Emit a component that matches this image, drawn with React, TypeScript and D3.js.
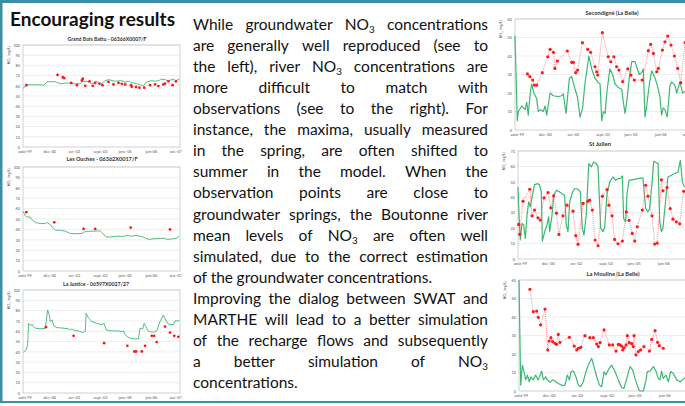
import React, { useEffect, useRef } from 'react';
import * as d3 from 'd3';

// x axis tick labels (decimal years of the label dates)
const monthLabels = ['août-99', 'déc.-00', 'avr.-02', 'sept.-03', 'janv.-05', 'juin-06', 'oct.-07'];
const monthTicks = [1999.58, 2000.92, 2002.25, 2003.67, 2005.0, 2006.42, 2007.75];

// Grand Bois Battu - 06366X0007/F
const gbbSimT = [1999.50, 1999.72, 2000.53, 2000.61, 2000.80, 2001.25, 2001.52, 2001.96, 2002.06, 2002.60, 2002.69, 2002.96, 2003.23, 2003.50, 2003.68, 2003.95, 2004.13, 2004.49, 2004.85, 2005.03, 2005.21, 2005.39, 2005.66, 2005.84, 2006.02, 2006.20, 2006.47, 2006.65, 2006.83, 2007.01, 2007.19, 2007.37, 2007.64, 2007.78, 2007.96];
const gbbSimV = [57.5, 61, 61, 60, 64, 64, 62, 63, 62, 62, 64, 64.5, 62, 64.5, 61, 65, 66, 64.5, 65, 63.5, 64.5, 63, 62, 61, 60, 64, 65, 64.5, 65, 66.5, 66, 65, 66.5, 65, 66.5];
const gbbObsT = [1999.68, 2001.37, 2001.66, 2001.73, 2002.11, 2002.42, 2002.69, 2002.74, 2002.87, 2003.10, 2003.28, 2003.41, 2003.64, 2003.80, 2004.13, 2004.40, 2004.67, 2004.85, 2005.03, 2005.35, 2005.39, 2005.62, 2005.80, 2006.06, 2006.38, 2006.65, 2006.83, 2007.10, 2007.19, 2007.37, 2007.60, 2007.78];
const gbbObsV = [60.6, 70.6, 68.4, 67.5, 62.8, 60.6, 65.3, 66.9, 60, 64.4, 60, 62.8, 62.2, 60.6, 63.8, 61.3, 62.8, 61.9, 61.3, 60.6, 59, 58.8, 58.1, 58.1, 60.6, 61.3, 59.7, 61.3, 62.2, 64.4, 60.6, 64.4];

// Les Ouches - 06362X0017/F
const louSimT = [1999.50, 1999.62, 1999.71, 1999.89, 1999.98, 2000.16, 2000.43, 2000.71, 2000.80, 2000.98, 2001.12, 2001.25, 2001.52, 2001.79, 2002.06, 2002.33, 2002.69, 2002.78, 2002.92, 2003.23, 2003.68, 2003.77, 2003.95, 2004.04, 2004.31, 2004.58, 2004.94, 2005.12, 2005.39, 2005.57, 2005.84, 2006.02, 2006.20, 2006.38, 2006.56, 2006.92, 2007.19, 2007.28, 2007.64, 2007.82, 2007.96];
const louSimV = [57.3, 53.2, 51.9, 51.9, 49.4, 46.8, 45.6, 45.6, 46.8, 44.6, 41.5, 39.2, 39.2, 38.3, 36.1, 35.8, 36.1, 37.3, 38, 38.3, 38.6, 37.3, 33.5, 32.6, 32.9, 33.5, 33.2, 34.2, 33.5, 34.2, 33.5, 32.6, 31, 30.4, 31, 31.3, 31.6, 30.4, 31, 31.6, 33.5];
const louObsT = [1999.68, 2001.19, 2002.78, 2003.41, 2005.33, 2007.46];
const louObsV = [56.6, 46.8, 40.5, 40.5, 41.8, 39.9];

// La Justice - 06597X0027/27
const ljuSimT = [1999.53, 1999.68, 1999.75, 1999.80, 1999.86, 1999.93, 1999.98, 2000.07, 2000.16, 2000.43, 2000.71, 2000.76, 2000.83, 2000.92, 2000.98, 2001.07, 2001.16, 2001.34, 2001.70, 2001.97, 2002.06, 2002.15, 2002.27, 2002.51, 2002.74, 2002.87, 2002.92, 2003.05, 2003.23, 2003.50, 2003.77, 2003.89, 2004.00, 2004.22, 2004.58, 2004.85, 2004.94, 2005.03, 2005.21, 2005.48, 2005.75, 2005.84, 2005.98, 2006.06, 2006.15, 2006.29, 2006.56, 2006.74, 2006.92, 2007.10, 2007.19, 2007.37, 2007.64, 2007.73, 2007.96];
const ljuSimV = [39.7, 41.9, 46.8, 67.7, 66.1, 65.5, 66.8, 64.5, 62.9, 62.3, 62.9, 69.4, 80.6, 75.8, 69.4, 71, 65.2, 63.5, 62.9, 62.3, 61.3, 62.3, 60.6, 60.3, 58.7, 59.7, 77.4, 72.6, 69.4, 67.7, 66.1, 67.7, 61.3, 60.3, 60.3, 59.7, 60.3, 56.5, 53.9, 52.6, 52.6, 62.9, 62.3, 67.7, 64.5, 59.7, 59, 60.3, 69.4, 75.8, 71.9, 66.8, 66.1, 70, 70];
const ljuObsT = [2000.74, 2002.24, 2003.89, 2005.15, 2005.53, 2005.62, 2005.93, 2006.11, 2006.47, 2006.60, 2006.74, 2007.19, 2007.46, 2007.69, 2007.91];
const ljuObsV = [63.9, 55.5, 48.4, 45.8, 40.3, 40.3, 40.3, 45.8, 55.5, 55.5, 49.4, 64.5, 58.7, 55.5, 54.5];

// Secondigné (La Belle)
const secSimT = [1999.50, 1999.61, 1999.66, 1999.82, 1999.98, 2000.06, 2000.13, 2000.21, 2000.29, 2000.40, 2000.53, 2000.61, 2000.72, 2000.85, 2000.93, 2001.01, 2001.17, 2001.33, 2001.56, 2001.72, 2001.80, 2001.93, 2002.09, 2002.20, 2002.36, 2002.47, 2002.60, 2002.72, 2002.83, 2003.02, 2003.15, 2003.31, 2003.47, 2003.55, 2003.63, 2003.71, 2003.79, 2003.87, 2004.02, 2004.15, 2004.26, 2004.42, 2004.58, 2004.66, 2004.74, 2004.82, 2004.94, 2005.06, 2005.21, 2005.33, 2005.42, 2005.53, 2005.61, 2005.69, 2005.77, 2005.90, 2006.01, 2006.17, 2006.28, 2006.40, 2006.48, 2006.56, 2006.64, 2006.75, 2006.88, 2006.96, 2007.12, 2007.20, 2007.28, 2007.36, 2007.48, 2007.60];
const secSimV = [51, 5, 10, 13, 11, 15, 8, 18, 25, 20, 17, 10, 11, 10, 13, 8, 20, 18.5, 18, 18.5, 19.5, 9, 28, 29, 22, 18, 7, 12, 25, 40, 33, 28, 25.5, 25, 5, 10, 9, 20, 33, 30, 25, 23, 22, 15, 9, 15, 28, 37, 37, 33, 30, 31, 33, 7, 13, 25, 32, 28, 24, 18, 8, 12, 11, 7, 24, 26, 24, 20, 23, 26, 20, 21];
const secObsT = [2000.09, 2000.21, 2000.34, 2000.42, 2000.53, 2000.80, 2001.06, 2001.17, 2001.33, 2001.40, 2001.52, 2001.99, 2002.20, 2002.28, 2002.39, 2002.48, 2002.71, 2002.96, 2003.10, 2003.31, 2003.39, 2003.44, 2003.66, 2003.94, 2004.06, 2004.21, 2004.34, 2004.45, 2004.63, 2004.87, 2005.02, 2005.18, 2005.56, 2005.85, 2005.96, 2006.09, 2006.25, 2006.33, 2006.52, 2006.64, 2006.77, 2006.93, 2007.09, 2007.25, 2007.39, 2007.60];
const secObsV = [30.3, 28.8, 27, 24.3, 24.3, 31, 39.6, 43.6, 42, 33.3, 37.3, 42.7, 36.6, 36.6, 31, 32.4, 47.2, 43.6, 42, 34.2, 31.5, 29.7, 52.6, 39.6, 36.9, 39.6, 34.2, 32.4, 26.1, 33, 29.7, 27, 27, 42.9, 46.3, 41.4, 31.5, 33.3, 43.2, 47.7, 50.8, 45.9, 40, 33.3, 25.6, 47.2];

// St Julien
const sjuSimT = [1999.50, 1999.55, 1999.61, 1999.69, 1999.77, 1999.85, 1999.93, 2000.01, 2000.09, 2000.17, 2000.29, 2000.45, 2000.53, 2000.61, 2000.66, 2000.77, 2000.88, 2000.96, 2001.01, 2001.12, 2001.20, 2001.33, 2001.48, 2001.64, 2001.72, 2001.80, 2001.88, 2001.96, 2002.09, 2002.20, 2002.36, 2002.47, 2002.56, 2002.64, 2002.75, 2002.87, 2002.99, 2003.10, 2003.23, 2003.31, 2003.44, 2003.55, 2003.63, 2003.74, 2003.87, 2004.02, 2004.15, 2004.26, 2004.37, 2004.47, 2004.53, 2004.63, 2004.69, 2004.79, 2004.98, 2005.21, 2005.45, 2005.58, 2005.69, 2005.77, 2005.90, 2005.96, 2006.17, 2006.25, 2006.33, 2006.40, 2006.53, 2006.64, 2006.80, 2006.96, 2007.12, 2007.23, 2007.33, 2007.39, 2007.44];
const sjuSimV = [46.7, 28.4, 12.3, 23, 22, 13.4, 28.4, 37, 33.8, 40.3, 48.2, 48.9, 47.8, 43.5, 11.6, 17.7, 22, 27.4, 17.7, 28.4, 41.4, 44.6, 43.5, 41.8, 41.4, 22, 17.7, 37, 43.1, 45.7, 45.2, 43.5, 19.8, 15.5, 28.4, 61.8, 59.7, 62.9, 61.8, 59.7, 19.8, 17.7, 20.9, 42.4, 50, 53.2, 51, 52.1, 52.1, 53.8, 26.3, 24.1, 42.4, 51, 51.5, 52.1, 52.6, 32.7, 30.6, 32.7, 52.1, 63.3, 61.8, 24.1, 17.7, 19.8, 38.1, 53.2, 54.3, 55.4, 56.4, 64, 50, 47.8, 46.7];
const sjuObsT = [1999.53, 1999.58, 1999.74, 2000.06, 2000.17, 2000.29, 2000.45, 2000.56, 2000.74, 2000.93, 2001.06, 2001.20, 2001.33, 2001.45, 2001.64, 2001.83, 2002.12, 2002.25, 2002.36, 2002.60, 2002.83, 2002.91, 2003.04, 2003.17, 2003.31, 2003.52, 2003.74, 2003.83, 2003.98, 2004.10, 2004.26, 2004.47, 2004.66, 2004.79, 2004.94, 2005.06, 2005.18, 2005.42, 2005.58, 2005.69, 2005.88, 2006.01, 2006.13, 2006.33, 2006.40, 2006.60, 2006.75, 2006.88, 2007.04, 2007.20, 2007.39];
const sjuObsV = [22.4, 15.9, 37.5, 45.2, 28, 31.7, 26.7, 25.2, 39.6, 43.1, 33.2, 40.9, 29.7, 15.9, 28, 34.9, 31, 15.1, 9.5, 36, 37.5, 38.1, 31.7, 12.3, 8.6, 40.7, 45, 34.9, 28, 12.7, 9.9, 11.6, 30.6, 25, 16.6, 11.6, 20.9, 31.7, 47.8, 40.7, 28, 9.7, 10.3, 51.3, 44.2, 46.3, 32.7, 25.8, 24.1, 22.8, 43.9];

// La Mouline (La Belle)
const mouSimT = [1999.50, 1999.58, 1999.66, 1999.74, 1999.82, 1999.90, 1999.99, 2000.07, 2000.18, 2000.29, 2000.42, 2000.58, 2000.66, 2000.77, 2000.85, 2000.98, 2001.09, 2001.21, 2001.37, 2001.58, 2001.69, 2001.80, 2001.90, 2001.98, 2002.09, 2002.21, 2002.33, 2002.44, 2002.56, 2002.69, 2002.80, 2002.96, 2003.07, 2003.20, 2003.33, 2003.44, 2003.55, 2003.64, 2003.75, 2003.91, 2004.07, 2004.23, 2004.39, 2004.50, 2004.63, 2004.79, 2004.91, 2005.02, 2005.18, 2005.26, 2005.42, 2005.55, 2005.61, 2005.74, 2005.90, 2006.02, 2006.13, 2006.21, 2006.29, 2006.37, 2006.50, 2006.61, 2006.72, 2006.85, 2007.01, 2007.17, 2007.29, 2007.40];
const mouSimV = [60, 3.2, 14, 10.5, 6, 8.6, 5, 7.7, 6, 8.6, 6, 10.8, 6, 7.7, 6, 4.7, 6, 5.4, 4.1, 2.9, 3.2, 8.6, 6, 10.5, 10.8, 7.7, 3.2, 2.3, 5, 10.5, 14, 17.7, 13.2, 7.7, 3.2, 2.3, 10.5, 8.6, 11.4, 14, 10.5, 6, 1.8, 1.4, 6.8, 13.2, 11.4, 6.8, 1.4, 0, 0, 6, 10.5, 10.8, 13.2, 10.8, 6.8, 6, 10.8, 6.8, 8.6, 5, 10.5, 9.5, 6, 5, 6, 7.2];
const mouObsT = [2000.02, 2000.18, 2000.34, 2000.42, 2000.53, 2000.74, 2000.87, 2000.94, 2001.02, 2001.10, 2001.21, 2001.29, 2001.37, 2001.45, 2001.90, 2002.13, 2002.25, 2002.33, 2002.44, 2002.64, 2002.88, 2003.04, 2003.20, 2003.28, 2003.36, 2003.55, 2003.80, 2003.96, 2004.12, 2004.23, 2004.31, 2004.39, 2004.44, 2004.50, 2004.60, 2004.66, 2004.75, 2004.87, 2004.94, 2004.98, 2005.07, 2005.18, 2005.29, 2005.45, 2005.71, 2005.82, 2005.98, 2006.10, 2006.18, 2006.37];
const mouObsV = [55, 42.9, 43.2, 39.8, 35.7, 44.3, 22.2, 27, 28.8, 26.7, 25.8, 25.2, 30.6, 26.3, 29, 24.3, 22.2, 23.1, 23.6, 29.9, 28.8, 28.8, 25.4, 24, 26.1, 33, 24.9, 24.9, 21.6, 25.2, 24.9, 24.3, 22.2, 23.4, 24.9, 29.9, 26.1, 25.6, 24, 29.9, 19.5, 21.3, 22.2, 24, 21.6, 27.9, 32.6, 26.3, 24.5, 23.1];

// body text, one entry per printed line
const bodyLines = [
  'While groundwater NO3 concentrations',
  'are generally well reproduced (see to',
  'the left), river NO3 concentrations are',
  'more difficult to match with',
  'observations (see to the right). For',
  'instance, the maxima, usually measured',
  'in the spring, are often shifted to',
  'summer in the model. When the',
  'observation points are close to',
  'groundwater springs, the Boutonne river',
  'mean levels of NO3 are often well',
  'simulated, due to the correct estimation',
  'of the groundwater concentrations.',
  'Improving the dialog between SWAT and',
  'MARTHE will lead to a better simulation',
  'of the recharge flows and subsequently',
  'a better simulation of NO3',
  'concentrations.',
];
const paragraphEnds = [12, 17];

const GREEN = '#3db873';
const RED = '#ff1a1a';
const TEAL = '#3a8ea6';
const FONT = 'Lato, "Open Sans", sans-serif';

const zip = (t: number[], v: number[]) => t.map((d, i) => ({ t: d, v: v[i] }));

const panels = [
  { title: 'Grand Bois Battu - 06366X0007/F', sim: zip(gbbSimT, gbbSimV), obs: zip(gbbObsT, gbbObsV), yMax: 100, joined: false,
    left: 23, right: 180, top: 45, bottom: 147, t1: 2008.0, titleX: 107, titleY: 41, titleW: 79 },
  { title: 'Les Ouches - 06362X0017/F', sim: zip(louSimT, louSimV), obs: zip(louObsT, louObsV), yMax: 100, joined: false,
    left: 23, right: 180, top: 167, bottom: 271, t1: 2008.0, titleX: 102, titleY: 160.5, titleW: 71 },
  { title: 'La Justice - 06597X0027/27', sim: zip(ljuSimT, ljuSimV), obs: zip(ljuObsT, ljuObsV), yMax: 100, joined: false,
    left: 23, right: 180, top: 290, bottom: 393, t1: 2008.0, titleX: 96, titleY: 285.5, titleW: 66 },
  { title: 'Secondigné (La Belle)', sim: zip(secSimT, secSimV), obs: zip(secObsT, secObsV), yMax: 60, joined: true,
    left: 515, right: 515 + 21 * 8.6, top: 19, bottom: 130, t1: 2008.1, titleX: 612, titleY: 15, titleW: 53 },
  { title: 'St Julien', sim: zip(sjuSimT, sjuSimV), obs: zip(sjuObsT, sjuObsV), yMax: 70, joined: true,
    left: 518, right: 518 + 21 * 8.6, top: 151, bottom: 259, t1: 2008.1, titleX: 600, titleY: 146, titleW: 22 },
  { title: 'La Mouline (La Belle)', sim: zip(mouSimT, mouSimV), obs: zip(mouObsT, mouObsV), yMax: 60, joined: true,
    left: 519, right: 519 + 21 * 8.6, top: 280, bottom: 391, t1: 2008.1, titleX: 613, titleY: 276, titleW: 53 },
];

function drawPanel(svg: any, p: any) {
  const g = svg.append('g');
  const x = d3.scaleLinear().domain([1999.5, p.t1]).range([p.left, p.right]);
  const y = d3.scaleLinear().domain([0, p.yMax]).range([p.bottom, p.top]);
  const yTicks = d3.range(0, p.yMax + 1, 10);

  g.selectAll('line.grid').data(yTicks.slice(1)).join('line')
    .attr('x1', p.left).attr('x2', p.right)
    .attr('y1', (d: number) => y(d)).attr('y2', (d: number) => y(d))
    .attr('stroke', '#e3e3e3').attr('stroke-width', 0.6);
  g.append('rect').attr('x', p.left).attr('y', p.top)
    .attr('width', p.right - p.left).attr('height', p.bottom - p.top)
    .attr('fill', 'none').attr('stroke', '#bdbdbd').attr('stroke-width', 0.7);

  g.append('g').attr('transform', `translate(${p.left},0)`)
    .call(d3.axisLeft(y).tickValues(yTicks).tickSize(0).tickPadding(3))
    .call((a: any) => a.select('.domain').remove())
    .attr('font-size', 3.8).attr('font-family', FONT).attr('color', '#555');
  g.append('g').attr('transform', `translate(0,${p.bottom})`)
    .call(d3.axisBottom(x).tickValues(monthTicks).tickFormat((d: any, i: number) => monthLabels[i]).tickSize(0).tickPadding(3))
    .call((a: any) => a.select('.domain').remove())
    .attr('font-size', 3.8).attr('font-family', FONT).attr('color', '#555');

  const yt = g.append('text')
    .attr('transform', `translate(${p.left - 13},${p.top + 1}) rotate(-90)`)
    .attr('text-anchor', 'end').attr('font-size', 3.6).attr('font-family', FONT).attr('fill', '#555');
  yt.append('tspan').text('NO');
  yt.append('tspan').attr('font-size', 2.6).attr('dy', 1).text('3');
  yt.append('tspan').attr('dy', -1).text(' (mg/L)');

  g.append('text').attr('x', p.titleX).attr('y', p.titleY)
    .attr('text-anchor', 'middle').attr('font-size', 5.6).attr('font-weight', 700)
    .attr('font-family', FONT).attr('fill', '#333')
    .attr('textLength', p.titleW).attr('lengthAdjust', 'spacingAndGlyphs').text(p.title);

  const line = d3.line<any>().x(d => x(d.t)).y(d => y(d.v));
  g.append('path').datum(p.sim).attr('d', line)
    .attr('fill', 'none').attr('stroke', GREEN).attr('stroke-width', p.joined ? 1.2 : 0.9)
    .attr('stroke-linejoin', 'round');
  if (p.joined) {
    g.append('path').datum(p.obs).attr('d', line)
      .attr('fill', 'none').attr('stroke', '#ff5a5a').attr('stroke-width', 0.7)
      .attr('stroke-dasharray', '1,1');
  }
  g.selectAll('circle.obs').data(p.obs).join('circle')
    .attr('cx', (d: any) => x(d.t)).attr('cy', (d: any) => y(d.v))
    .attr('r', p.joined ? 1.6 : 1.4).attr('fill', RED);
}

function drawBody(svg: any) {
  const X0 = 193, W = 295, Y0 = 30, LH = 21.06, FS = 15.5;
  const g = svg.append('g').attr('font-family', FONT).attr('font-size', FS).attr('fill', '#111');
  bodyLines.forEach((ln, i) => {
    const words = ln.split(' ');
    const yy = Y0 + i * LH;
    const nodes = words.map(w => {
      const t = g.append('text');
      if (w === 'NO3') {
        t.append('tspan').text('NO');
        t.append('tspan').attr('font-size', FS * 0.64).attr('dy', 3.2).text('3');
      } else {
        t.text(w);
      }
      return t;
    });
    const widths = nodes.map((n: any) => n.node().getComputedTextLength());
    const sum = d3.sum(widths);
    const n = words.length;
    const justify = !paragraphEnds.includes(i) && n > 1;
    const minGap = FS * 0.2;
    let gap = justify ? (W - sum) / (n - 1) : FS * 0.23;
    let k = 1;
    if (justify && gap < minGap) {
      gap = minGap;
      k = (W - gap * (n - 1)) / sum;
    }
    let xx = X0;
    nodes.forEach((nd: any, j: number) => {
      nd.attr('transform', `translate(${xx},${yy}) scale(${k},1)`);
      xx += widths[j] * k + gap;
    });
  });
}

export default function App() {
  const ref = useRef<SVGSVGElement>(null);

  useEffect(() => {
    const draw = () => {
      const svg = d3.select(ref.current);
      svg.selectAll('*').remove();
      svg.append('rect').attr('width', 685).attr('height', 406).attr('fill', '#fff');

      panels.forEach(p => drawPanel(svg, p));
      drawBody(svg);

      svg.append('text').attr('x', 10).attr('y', 26)
        .attr('font-family', FONT).attr('font-weight', 700).attr('font-size', 18.5)
        .attr('fill', '#111').attr('textLength', 165).attr('lengthAdjust', 'spacingAndGlyphs')
        .text('Encouraging results');

      // poster frame
      svg.append('rect').attr('x', 0).attr('y', 0).attr('width', 685).attr('height', 3).attr('fill', TEAL);
      svg.append('rect').attr('x', 0).attr('y', 0).attr('width', 2.5).attr('height', 403).attr('fill', TEAL);
      svg.append('rect').attr('x', 0).attr('y', 401).attr('width', 685).attr('height', 2).attr('fill', TEAL);
    };
    draw();
    if ((document as any).fonts) (document as any).fonts.ready.then(draw);
  }, []);

  return (
    <svg ref={ref} width={685} height={406}
      style={{ position: 'absolute', left: 0, top: 0, display: 'block' }} />
  );
}
